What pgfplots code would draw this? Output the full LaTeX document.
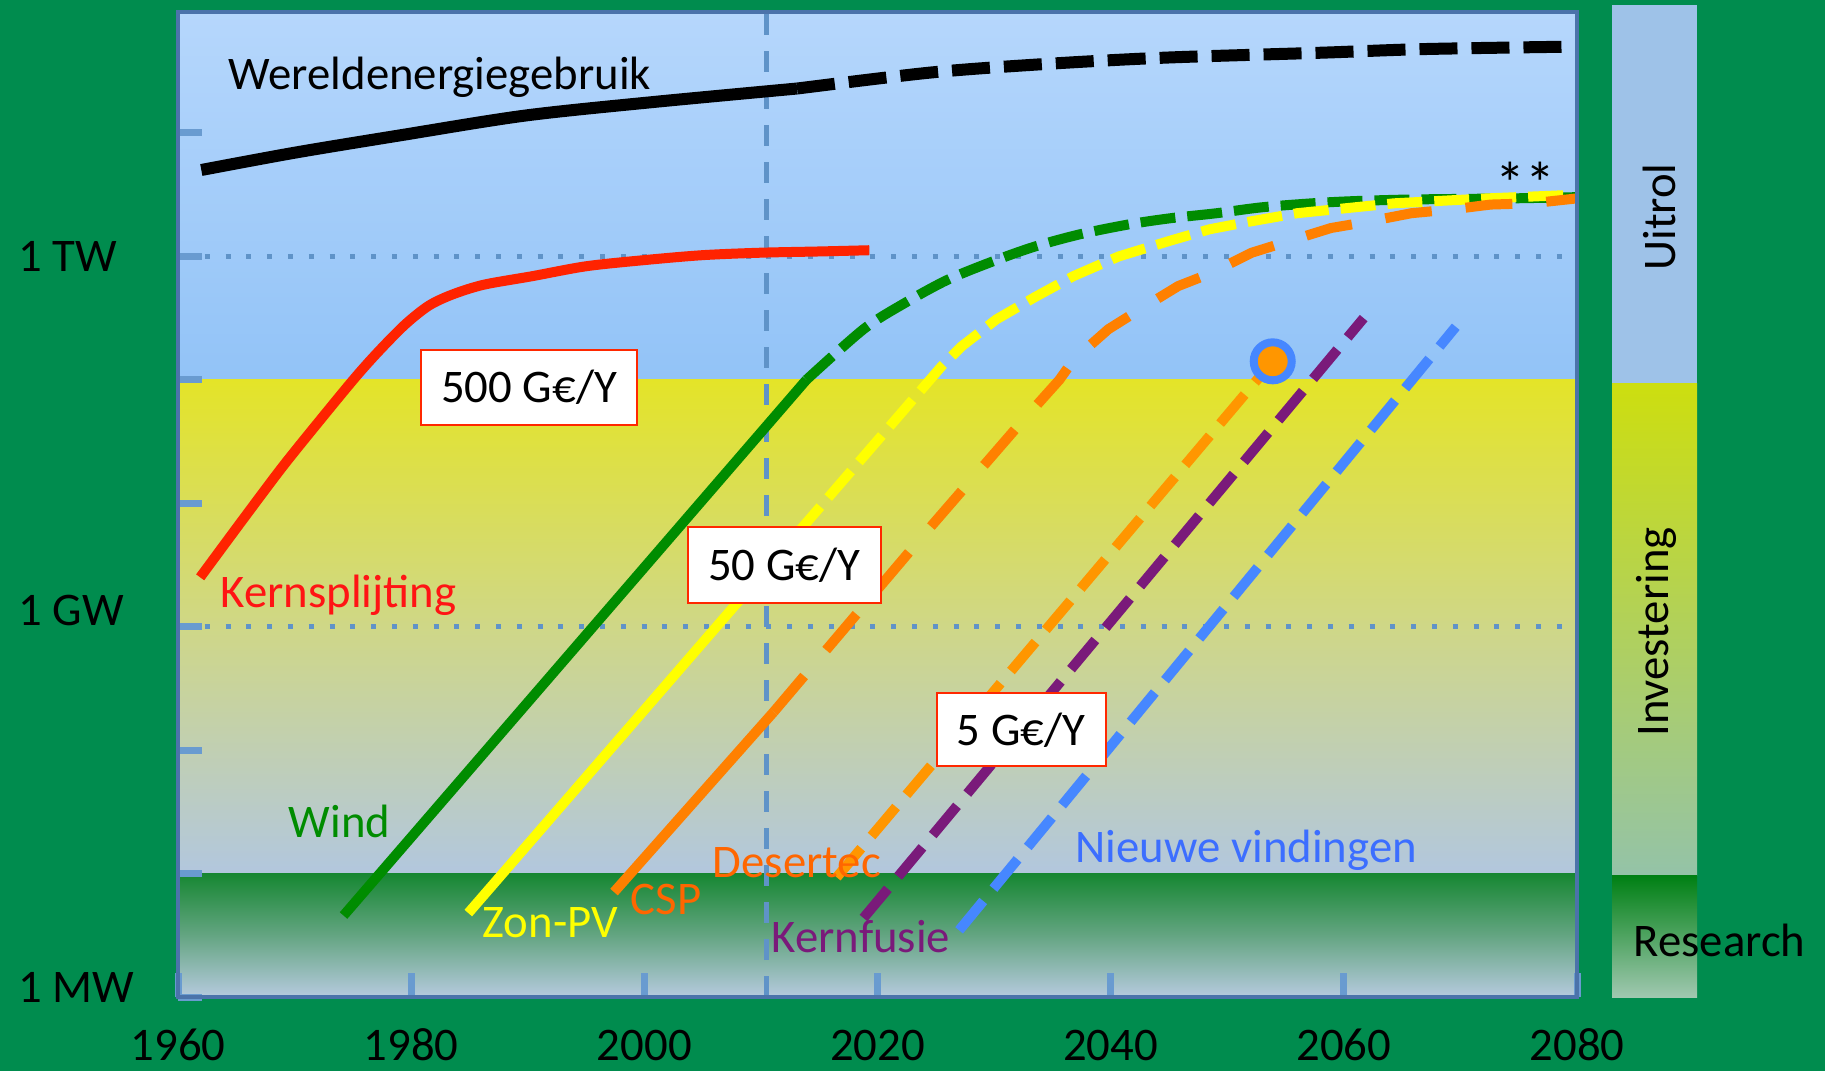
\documentclass[border=0pt]{standalone}
\usepackage{pgfplots}
\pgfplotsset{compat=1.18}
\usepackage{fontspec}
\setmainfont{Carlito}

\definecolor{bg}{RGB}{0,140,78}
\definecolor{topA}{RGB}{182,215,252}
\definecolor{topB}{RGB}{146,195,247}
\definecolor{midA}{RGB}{228,228,40}
\definecolor{midM}{RGB}{207,215,135}
\definecolor{midB}{RGB}{178,199,222}
\definecolor{botA}{RGB}{22,135,50}
\definecolor{botM}{RGB}{100,165,130}
\definecolor{botB}{RGB}{182,202,222}
\definecolor{barUit}{RGB}{158,194,232}
\definecolor{barInvA}{RGB}{205,222,15}
\definecolor{barInvB}{RGB}{148,195,168}
\definecolor{barResA}{RGB}{0,128,20}
\definecolor{barResB}{RGB}{160,200,176}
\definecolor{axisline}{RGB}{75,115,170}
\definecolor{tickblue}{RGB}{105,155,208}
\definecolor{gridblue}{RGB}{95,147,200}
\definecolor{kred}{RGB}{255,35,0}
\definecolor{kgreen}{RGB}{0,140,0}
\definecolor{kyellow}{RGB}{255,255,0}
\definecolor{korange}{RGB}{255,128,0}
\definecolor{kdes}{RGB}{255,150,0}
\definecolor{kpurple}{RGB}{122,26,122}
\definecolor{kblue}{RGB}{70,135,255}
\definecolor{txtorange}{RGB}{255,102,0}
\definecolor{txtblue}{RGB}{60,110,255}
\definecolor{txtred}{RGB}{255,20,20}
\definecolor{boxred}{RGB}{255,40,0}

\begin{document}
\begin{tikzpicture}[font=\fontsize{13.3}{16}\selectfont]

% achtergrond en balk rechts (1 px = 0.1 mm)
\begin{scope}[x=0.1mm,y=0.1mm]
\fill[bg] (0,0) rectangle (1825,1071);
\fill[barUit] (1612,1066) rectangle (1697,687);
\shade[top color=barInvA, bottom color=barInvB] (1612,687) rectangle (1697,195);
\shade[top color=barResA, bottom color=barResB] (1612,195) rectangle (1697,74);
\end{scope}

\begin{axis}[
  at={(17.8mm,7.4mm)}, anchor=south west,
  width=139.9mm, height=98.5mm, scale only axis,
  xmin=1960, xmax=2080, ymin=6, ymax=13.98,
  axis on top,
  axis line style={draw=axisline, line width=0.4mm},
  xtick={1960,1980,...,2080},
  xticklabels={1960,1980,2000,2020,2040,2060,2080},
  ytick={6,...,13},
  yticklabels={\raisebox{1.0mm}{1 MW},,,\raisebox{1.6mm}{1 GW},,,1 TW,},
  tick align=inside, tick pos=left,
  major tick length=2.4mm,
  tick style={tickblue, line width=0.7mm},
  xticklabel style={anchor=base, inner sep=0pt, yshift=-6.3mm},
  yticklabel style={anchor=base west, inner sep=0pt, xshift=-16.0mm, yshift=-1.5mm},
]
% banden
\path[top color=topA, bottom color=topB] (axis cs:1960,11) rectangle (axis cs:2080,14);
\path[top color=midA, bottom color=midB, middle color=midM] (axis cs:1960,7) rectangle (axis cs:2080,11);
\path[top color=botA, bottom color=botB, middle color=botM] (axis cs:1960,6) rectangle (axis cs:2080,7);

% stippellijnen 1 GW / 1 TW en 2010
\draw[gridblue, line width=0.5mm, dash pattern=on 0.5mm off 1.58mm] (axis cs:1962.3,9) -- (axis cs:2079,9);
\draw[gridblue, line width=0.5mm, dash pattern=on 0.5mm off 1.58mm] (axis cs:1962.3,12) -- (axis cs:2079,12);
\draw[gridblue, line width=0.5mm, dash pattern=on 2.1mm off 1.6mm] (axis cs:2010.5,6) -- (axis cs:2010.5,13.98);

% Wereldenergiegebruik
\addplot[black, line width=1.2mm, smooth] coordinates {
  (1962.0,12.70) (1970,12.84) (1979,12.98) (1989.7,13.14) (2000.7,13.25) (2013.1,13.36)};
\addplot[black, line width=1.2mm, smooth, dash pattern=on 3.8mm off 1.4mm] coordinates {
  (2013.1,13.36) (2024.6,13.49) (2034.6,13.56) (2044.6,13.61) (2058,13.65) (2067,13.68) (2080,13.70)};

% Kernsplijting
\addplot[kred, line width=1mm, smooth] coordinates {
  (1961.9,9.40) (1965.5,9.86) (1969,10.30) (1972.5,10.71) (1975.3,11.03) (1977.3,11.24)
  (1979.5,11.45) (1981.5,11.60) (1983.5,11.69) (1986.2,11.77) (1990.4,11.84) (1995,11.92)
  (2000,11.97) (2005,12.01) (2010,12.03) (2015,12.04) (2019.3,12.05)};

% Wind
\addplot[kgreen, line width=1mm] coordinates {(1974.2,6.66) (2013.9,11.00)};
\addplot[kgreen, line width=1mm, smooth, dash pattern=on 3.5mm off 1.2mm] coordinates {
  (2013.9,11.00) (2018.8,11.41) (2022.3,11.62) (2026.0,11.81) (2029.9,11.96) (2033.5,12.08)
  (2037.4,12.18) (2041.6,12.26) (2045.2,12.31) (2049.1,12.35) (2053.2,12.40) (2059,12.44)
  (2065.2,12.46) (2074.3,12.47) (2080,12.48)};

% Zon-PV
\addplot[kyellow, line width=1mm] coordinates {(1984.9,6.68) (2010.5,9.47)};
\addplot[kyellow, line width=1mm, dash pattern=on 3.5mm off 1.2mm] coordinates {
  (2010.5,9.47) (2025.5,11.11) (2027.2,11.27) (2030.2,11.49) (2033.5,11.67) (2036.8,11.84)
  (2040.7,12.00) (2045.2,12.13) (2048.5,12.22) (2051.8,12.28) (2056,12.35) (2064.3,12.43)
  (2072.3,12.47) (2080,12.50)};

% CSP
\addplot[korange, line width=1mm] coordinates {(1997.4,6.85) (2011.1,8.31)};
\addplot[korange, line width=1mm, dash pattern=on 4.7mm off 3.4mm] coordinates {
  (2011.1,8.31) (2024.2,9.77) (2032.0,10.62) (2035.6,11.00) (2036.8,11.16) (2039.8,11.41)
  (2042.5,11.57) (2045.8,11.76) (2048.5,11.86) (2052.1,12.03) (2055.5,12.13) (2058.9,12.23)
  (2062,12.28) (2065.8,12.35) (2069.2,12.38) (2072.6,12.42) (2076.1,12.43) (2080,12.47)};

% Desertec
\addplot[kdes, line width=1mm, dash pattern=on 3.8mm off 1.6mm] coordinates {(2016.5,6.97) (2053.9,11.15)};
\addplot[only marks, mark=*, mark size=1.9mm, mark options={fill=kdes, draw=kblue, line width=0.8mm}]
  coordinates {(2053.9,11.15)};

% Kernfusie
\addplot[kpurple, line width=1mm, dash pattern=on 3.8mm off 1.6mm] coordinates {(2018.8,6.64) (2061.7,11.50)};

% Nieuwe vindingen
\addplot[kblue, line width=1mm, dash pattern=on 3.8mm off 1.6mm] coordinates {(2027.0,6.54) (2069.6,11.43)};
\end{axis}

% teksten
\begin{scope}[x=0.1mm,y=0.1mm, every node/.style={inner sep=0pt}]
\node[anchor=base west] at (228,981) {Wereldenergiegebruik};
\node[anchor=base west, txtred] at (220,463) {Kernsplijting};
\node[anchor=base west, kgreen] at (288,233) {Wind};
\node[anchor=base west, kyellow] at (482,133) {Zon-PV};
\node[anchor=base west, txtorange] at (630,156) {CSP};
\node[anchor=base west, txtorange] at (712,193) {Desertec};
\node[anchor=base west, kpurple] at (771,118) {Kernfusie};
\node[anchor=base west, txtblue] at (1075,208) {Nieuwe vindingen};
\node[font=\fontsize{17}{20}\selectfont] at (1525,888) {**};

\node[draw=boxred, line width=0.2mm, fill=white, minimum width=21.6mm, minimum height=7.5mm] at (529,683.5) {500 G€/Y};
\node[draw=boxred, line width=0.2mm, fill=white, minimum width=19.3mm, minimum height=7.6mm] at (784,505.5) {50 G€/Y};
\node[draw=boxred, line width=0.2mm, fill=white, minimum width=16.9mm, minimum height=7.3mm] at (1021,341) {5 G€/Y};

\node[rotate=90] at (1659,854) {Uitrol};
\node[rotate=90] at (1656,439) {Investering};
\node[anchor=base west] at (1633,114) {Research};
\end{scope}

\pgfresetboundingbox
\path[use as bounding box] (0,0) rectangle (182.5mm,107.1mm);
\end{tikzpicture}
\end{document}
